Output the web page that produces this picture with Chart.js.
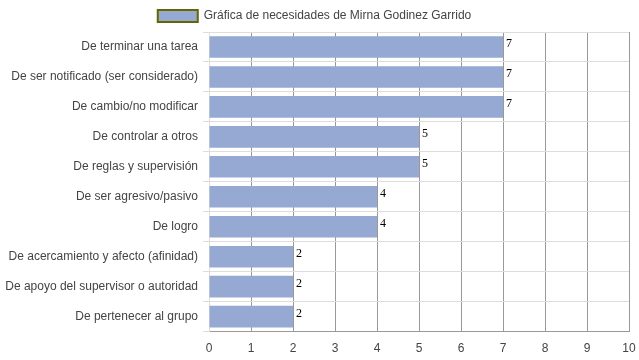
<!DOCTYPE html>
<html><head><meta charset="utf-8">
<script src="https://cdn.jsdelivr.net/npm/chart.js@4/dist/chart.umd.min.js"></script>
<style>html,body{margin:0;padding:0;background:#fff;}#wrap{width:639px;height:360px;}</style>
</head><body><div id="wrap"><canvas id="c" width="639" height="360"></canvas></div>
<script>
const categories = ["De terminar una tarea","De ser notificado (ser considerado)","De cambio/no modificar","De controlar a otros","De reglas y supervisión","De ser agresivo/pasivo","De logro","De acercamiento y afecto (afinidad)","De apoyo del supervisor o autoridad","De pertenecer al grupo"];
const values = [7,7,7,5,5,4,4,2,2,2];
const seriesName = "Gráfica de necesidades de Mirna Godinez Garrido";
const xTicks = [0,1,2,3,4,5,6,7,8,9,10];

const valueLabels = {
  id:'valueLabels',
  afterDatasetsDraw(chart){
    const ctx = chart.ctx;
    const meta = chart.getDatasetMeta(0);
    ctx.save();
    ctx.font = '12px "Liberation Serif", "Times New Roman", serif';
    ctx.fillStyle = '#000';
    ctx.textAlign = 'left';
    ctx.textBaseline = 'top';
    meta.data.forEach((bar,i)=>{
      const top = bar.y - bar.height/2;
      ctx.fillText(String(values[i]), bar.x + 3, top + 2);
    });
    ctx.restore();
  }
};

const legendShift = {
  id:'legendShift',
  afterLayout(chart){
    if (chart.legend) { chart.legend.left -= 8; chart.legend.right -= 8; }
  }
};

new Chart(document.getElementById('c'), {
  type:'bar',
  data:{labels:categories, datasets:[{label:seriesName, data:values,
    backgroundColor:'#95a9d3', borderColor:'#95a9d3', borderWidth:0,
    barPercentage:0.9, categoryPercentage:0.8}]},
  options:{
    indexAxis:'y', responsive:false, animation:false,
    layout:{padding:{left:6,right:0,top:0,bottom:0}},
    plugins:{
      legend:{display:true, position:'top',
        labels:{font:{family:'"Liberation Sans", Arial, sans-serif', size:12}, color:'#444',
          boxWidth:40, boxHeight:12, padding:10,
          generateLabels(chart){return [{text:seriesName, fillStyle:'#95a9d3', strokeStyle:'#666600', lineWidth:2, hidden:false, datasetIndex:0, fontColor:'#444'}];}}},
      tooltip:{enabled:false}
    },
    scales:{
      x:{min:0,max:10, afterBuildTicks(s){s.ticks = xTicks.map(v=>({value:v}));},
        afterFit(s){s.height -= 6; s.paddingRight = 10; s.paddingLeft = 0;},
        ticks:{font:{family:'"Liberation Sans", Arial, sans-serif', size:12}, color:'#444', padding:10},
        grid:{color:'#999', drawTicks:false, tickLength:0},
        border:{color:'#999'}},
      y:{ afterFit(s){s.width = 203;},
        ticks:{font:{family:'"Liberation Sans", Arial, sans-serif', size:12}, color:'#444', padding:5},
        grid:{color:'#ddd', offset:true, drawTicks:true, tickLength:6},
        border:{color:'#ddd'}}
    }
  },
  plugins:[valueLabels, legendShift]
});
</script></body></html>
